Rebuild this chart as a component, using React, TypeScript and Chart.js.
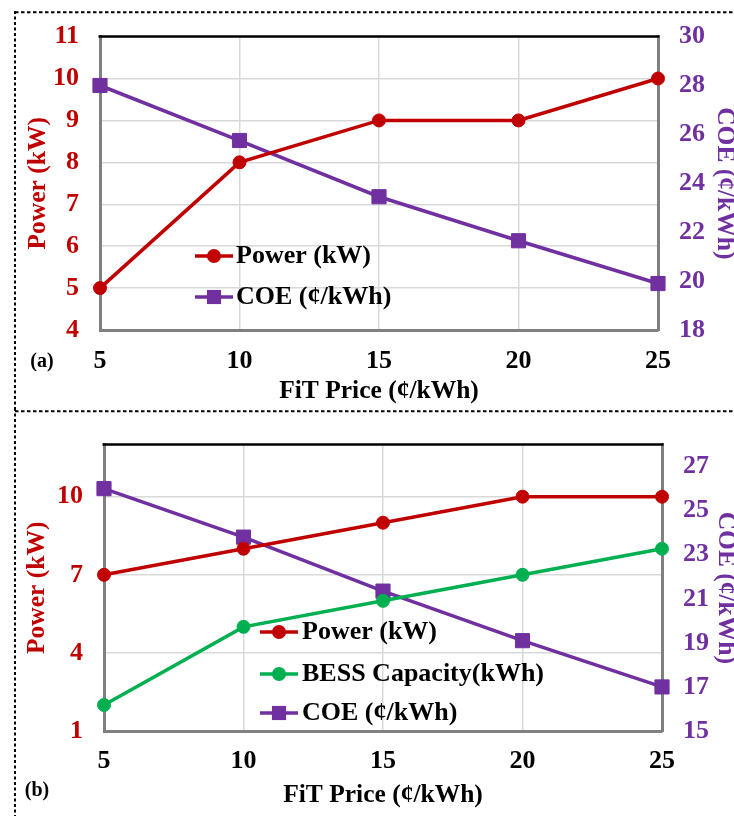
import React, { useEffect, useRef } from 'react';
import { Chart, registerables } from 'chart.js';

Chart.register(...registerables);

// ---- data ----
const categories = ['5', '10', '15', '20', '25'];
const powerA = [5, 8, 9, 9, 10];
const coeA = [28.0, 25.75, 23.45, 21.65, 19.9];
const powerB = [7, 8, 9, 10, 10];
const bessB = [2, 5, 6, 7, 8];
const coeB = [26.0, 23.8, 21.35, 19.1, 17.0];
const ticksALeft = [4, 5, 6, 7, 8, 9, 10, 11];
const ticksARight = [18, 20, 22, 24, 26, 28, 30];
const ticksBLeft = [1, 4, 7, 10];
const ticksBRight = [15, 17, 19, 21, 23, 25, 27];

const RED = '#C00000';
const PURPLE = '#7030A0';
const GREEN = '#00B050';
const GRID = '#d9d9d9';
const AXIS = '#808080';
const FONT = '"Liberation Serif", "Times New Roman", serif';

const framePlugin = {
  id: 'frame',
  beforeDraw(chart: any, _args: any, opts: any) {
    const ctx = chart.ctx;
    ctx.save();
    ctx.strokeStyle = '#000';
    ctx.lineWidth = 2;
    ctx.setLineDash([3.5, 2.5]);
    ctx.beginPath();
    ctx.moveTo(opts.lineX, opts.hLineY);
    ctx.lineTo(chart.width, opts.hLineY);
    ctx.stroke();
    ctx.setLineDash([3, 2.5]);
    ctx.beginPath();
    ctx.moveTo(opts.lineX, opts.vTop);
    ctx.lineTo(opts.lineX, chart.height);
    ctx.stroke();
    ctx.restore();
  },
  afterDraw(chart: any, _args: any, opts: any) {
    const ctx = chart.ctx;
    const a = chart.chartArea;
    ctx.save();
    // top frame line
    ctx.strokeStyle = '#000';
    ctx.lineWidth = 2.5;
    ctx.beginPath();
    ctx.moveTo(a.left - 1.5, a.top);
    ctx.lineTo(a.right + 1.5, a.top);
    ctx.stroke();

    // legend
    const lg = opts.legend;
    chart.data.datasets.forEach((ds: any, i: number) => {
      const y = lg.rows[i];
      ctx.strokeStyle = ds.borderColor;
      ctx.lineWidth = ds.borderWidth;
      ctx.beginPath();
      ctx.moveTo(lg.x0, y);
      ctx.lineTo(lg.x1, y);
      ctx.stroke();
      const mx = (lg.x0 + lg.x1) / 2;
      ctx.fillStyle = ds.backgroundColor;
      if (ds.pointStyle === 'rect') {
        const s = ds.pointRadius * Math.SQRT1_2;
        ctx.fillRect(mx - s, y - s, 2 * s, 2 * s);
      } else {
        ctx.beginPath();
        ctx.arc(mx, y, ds.pointRadius + 0.5, 0, Math.PI * 2);
        ctx.fill();
      }
      ctx.fillStyle = '#000';
      ctx.font = `bold 26px ${FONT}`;
      ctx.textAlign = 'left';
      ctx.textBaseline = 'middle';
      ctx.fillText(ds.label, lg.tx, y);
    });

    // panel label
    ctx.fillStyle = '#000';
    ctx.font = `bold 20px ${FONT}`;
    ctx.textAlign = 'center';
    ctx.textBaseline = 'middle';
    ctx.fillText(opts.panel.text, opts.panel.x, opts.panel.y);
    ctx.restore();
  },
};

function lineDs(label: string, data: number[], color: string, axis: string, style: string) {
  return {
    label,
    data,
    yAxisID: axis,
    borderColor: color,
    backgroundColor: color,
    pointBackgroundColor: color,
    pointBorderColor: color,
    borderWidth: 3.5,
    pointStyle: style,
    pointRadius: style === 'rect' ? 10 : 6.5,
    pointBorderWidth: 1,
    tension: 0,
    clip: false,
  };
}

function buildConfig(p: any) {
  const tickFont = { family: FONT, size: 26, weight: 'bold' as const };
  const titleFont = { family: FONT, size: 25.5, weight: 'bold' as const, lineHeight: 1 };
  return {
    type: 'line',
    data: { labels: categories, datasets: p.datasets },
    plugins: [framePlugin],
    options: {
      responsive: false,
      animation: false,
      events: [],
      layout: { padding: { top: p.top, left: 0, right: 0, bottom: 0 } },
      plugins: {
        legend: { display: false },
        tooltip: { enabled: false },
        frame: p.frame,
      },
      scales: {
        x: {
          type: 'category',
          offset: false,
          grid: { color: GRID, lineWidth: 1.5, drawTicks: false },
          border: { color: AXIS, width: 3 },
          ticks: { color: '#000', font: tickFont, padding: p.xTickPad, maxRotation: 0, autoSkip: false },
          title: {
            display: true,
            text: 'FiT Price (¢/kWh)',
            color: '#000',
            font: titleFont,
            padding: { top: 0, bottom: p.xTitlePad },
          },
          afterFit: (s: any) => { s.height = p.xH; },
        },
        y: {
          type: 'linear',
          position: 'left',
          min: p.leftMin,
          max: p.leftMax,
          afterBuildTicks: (s: any) => { s.ticks = p.leftTicks.map((v: number) => ({ value: v })); },
          grid: { color: GRID, lineWidth: 1.5, drawTicks: false },
          border: { color: AXIS, width: 3 },
          ticks: { color: RED, font: tickFont, padding: 21 },
          title: {
            display: true,
            text: 'Power (kW)',
            color: RED,
            font: titleFont,
            padding: { top: p.leftTitlePad, bottom: 0 },
          },
          afterFit: (s: any) => { s.width = p.leftW; },
        },
        y1: {
          type: 'linear',
          position: 'right',
          min: p.rightMin,
          max: p.rightMax,
          afterBuildTicks: (s: any) => { s.ticks = p.rightTicks.map((v: number) => ({ value: v })); },
          grid: { display: false, drawTicks: false },
          border: { color: AXIS, width: 3 },
          ticks: { color: PURPLE, font: tickFont, padding: 21 },
          title: {
            display: true,
            text: 'COE (¢/kWh)',
            color: PURPLE,
            font: titleFont,
            padding: { top: p.rightTitlePad, bottom: 0 },
          },
          afterFit: (s: any) => { s.width = p.rightW; },
        },
      },
    },
  };
}

const configA = () =>
  buildConfig({
    datasets: [
      lineDs('Power (kW)', powerA, RED, 'y', 'circle'),
      lineDs('COE (¢/kWh)', coeA, PURPLE, 'y1', 'rect'),
    ],
    top: 33,
    xH: 78,
    leftW: 100,
    rightW: 76,
    xTickPad: 15.5,
    xTitlePad: 3.5,
    leftTitlePad: 25.5,
    rightTitlePad: -3.5,
    leftMin: 4,
    leftMax: 11,
    leftTicks: ticksALeft,
    rightMin: 18,
    rightMax: 30,
    rightTicks: ticksARight,
    frame: {
      lineX: 15,
      hLineY: 12.3,
      vTop: 11,
      legend: { x0: 195, x1: 233, tx: 236, rows: [256, 297] },
      panel: { text: '(a)', x: 42, y: 362 },
    },
  });

const configB = () =>
  buildConfig({
    datasets: [
      lineDs('Power (kW)', powerB, RED, 'y', 'circle'),
      lineDs('BESS Capacity(kWh)', bessB, GREEN, 'y', 'circle'),
      lineDs('COE (¢/kWh)', coeB, PURPLE, 'y1', 'rect'),
    ],
    top: 22,
    xH: 85,
    leftW: 104,
    rightW: 72,
    xTickPad: 15,
    xTitlePad: 7.5,
    leftTitlePad: 25,
    rightTitlePad: -4.5,
    leftMin: 1,
    leftMax: 12,
    leftTicks: ticksBLeft,
    rightMin: 15,
    rightMax: 28,
    rightTicks: ticksBRight,
    frame: {
      lineX: 15,
      hLineY: 3.3,
      vTop: 0,
      legend: { x0: 260, x1: 298, tx: 302, rows: [224, 266, 305] },
      panel: { text: '(b)', x: 37, y: 383 },
    },
  });

function Panel({ top, make }: { top: number; make: () => any }) {
  const ref = useRef<HTMLCanvasElement | null>(null);
  useEffect(() => {
    if (!ref.current) return;
    const chart = new Chart(ref.current, make());
    return () => chart.destroy();
  }, []);
  return (
    <canvas
      ref={ref}
      width={734}
      height={408}
      style={{ position: 'absolute', left: 0, top, width: 734, height: 408, display: 'block' }}
    />
  );
}

export default function App() {
  return (
    <div style={{ position: 'absolute', left: 0, top: 0, width: 734, height: 816, background: '#fff', overflow: 'hidden' }}>
      <Panel top={0} make={configA} />
      <Panel top={408} make={configB} />
    </div>
  );
}
